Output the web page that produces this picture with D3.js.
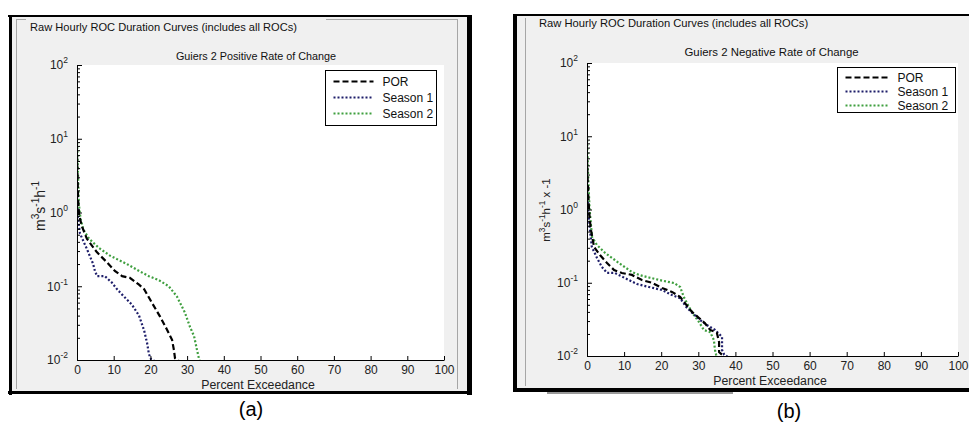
<!DOCTYPE html>
<html><head><meta charset="utf-8">
<script src="https://cdn.jsdelivr.net/npm/d3@7"></script>
<style>
body{margin:0;background:#fff}
svg{display:block}
text{font-family:"Liberation Sans",Arial,sans-serif}
</style>
</head><body>
<svg id="c" width="969" height="424"></svg>
<script>
// ---------- DATA ----------
const boxTitle = "Raw Hourly ROC Duration Curves (includes all ROCs)";
const panelTitles = ["Guiers 2 Positive Rate of Change", "Guiers 2 Negative Rate of Change"];
const panelTags = ["(a)", "(b)"];
const xLabel = "Percent Exceedance";
const seriesNames = ["POR", "Season 1", "Season 2"];
const xTicks = [0, 10, 20, 30, 40, 50, 60, 70, 80, 90, 100];
const yTicks = [0.01, 0.1, 1, 10, 100];
const yTickExp = ["-2", "-1", "0", "1", "2"];
const yMinorTicks = [0.02,0.03,0.04,0.05,0.06,0.07,0.08,0.09,0.2,0.3,0.4,0.5,0.6,0.7,0.8,0.9,2,3,4,5,6,7,8,9,20,30,40,50,60,70,80,90];

// Panel (a) – positive rate of change
const aPorX = [0, 0.3, 0.6, 1.4, 2.7, 5.4, 8.2, 10.4, 12.3, 14.4, 16.9, 18.3, 20.4, 22.6, 24.5, 25.9, 26.4, 26.7, 27.5, 28];
const aPorY = [6, 1.5, 0.9, 0.64, 0.44, 0.29, 0.21, 0.16, 0.137, 0.13, 0.105, 0.091, 0.06, 0.039, 0.026, 0.0188, 0.0137, 0.0106, 0.0099, 0.0095];
const aS1X = [0, 0.2, 0.8, 2.7, 4.4, 4.9, 5.5, 7.6, 9.5, 11, 12.3, 15, 16.9, 18.3, 19.1, 19.6, 20.2, 21.5];
const aS1Y = [1.9, 0.9, 0.52, 0.32, 0.2, 0.16, 0.137, 0.137, 0.112, 0.09, 0.077, 0.056, 0.04, 0.025, 0.017, 0.012, 0.0102, 0.0095];
const aS2X = [0, 0.3, 0.5, 1.0, 1.6, 1.9, 3.3, 6, 9, 13.6, 17, 19.6, 22.3, 25, 27.2, 29.4, 30.8, 31.9, 32.7, 33.2, 33.5];
const aS2Y = [10, 3, 1.3, 0.8, 0.62, 0.57, 0.44, 0.33, 0.26, 0.2, 0.16, 0.137, 0.121, 0.1, 0.073, 0.044, 0.028, 0.021, 0.0137, 0.0106, 0.0095];

// Panel (b) – negative rate of change
const bPorX = [0, 0.3, 0.6, 1.0, 1.9, 3.5, 5.4, 7.3, 9.4, 12.1, 14.8, 17.5, 20.2, 22.9, 25.1, 26.4, 28.3, 30.2, 31.8, 33.2, 35, 35.6, 35.6, 36.4, 37.2];
const bPorY = [5, 1.7, 0.9, 0.55, 0.308, 0.239, 0.186, 0.149, 0.136, 0.128, 0.109, 0.1, 0.085, 0.075, 0.064, 0.0528, 0.04, 0.033, 0.028, 0.0227, 0.0208, 0.0155, 0.0113, 0.0104, 0.0095];
const bS1X = [0, 0.3, 0.8, 1.3, 2.7, 4, 5.4, 7.5, 10.2, 13.5, 16.7, 20.2, 22.9, 25.1, 26.7, 28.3, 30.5, 32.3, 34.5, 36.4, 36.4, 37, 38.3];
const bS1Y = [2.4, 1.0, 0.52, 0.308, 0.218, 0.164, 0.136, 0.136, 0.116, 0.096, 0.0875, 0.0796, 0.068, 0.0616, 0.047, 0.039, 0.031, 0.0265, 0.0227, 0.0182, 0.0121, 0.0104, 0.0095];
const bS2X = [0, 0.3, 0.7, 1.35, 2.7, 4.9, 8.6, 12.1, 14, 16.7, 20.2, 23.5, 25.1, 26.1, 27.5, 28.8, 30.2, 31.5, 33.2, 34.2, 34.5, 34.8, 35];
const bS2Y = [10, 3, 1.0, 0.42, 0.327, 0.255, 0.186, 0.14, 0.128, 0.118, 0.107, 0.099, 0.0875, 0.0638, 0.0467, 0.0363, 0.0291, 0.0226, 0.0212, 0.0165, 0.0121, 0.0104, 0.0095];

// ---------- STYLE ----------
const seriesStyle = [
  {color: "#000000", dash: "6,3", width: 2.2},
  {color: "#1e1e6a", dash: "2,2", width: 2.2},
  {color: "#3f9f3f", dash: "2,2", width: 2.2}
];

const svg = d3.select("#c");
const zip = (xs, ys) => xs.map((v, i) => [v, ys[i]]);

function supText(sel, parts, baseSize, supSize) {
  let prevSup = false;
  parts.forEach(([s, sup]) => {
    const t = sel.append("tspan").text(s);
    if (sup) t.attr("font-size", supSize);
    if (sup && !prevSup) t.attr("dy", -baseSize * 0.4);
    else if (!sup && prevSup) t.attr("dy", baseSize * 0.4);
    prevSup = sup;
  });
}

function drawPanel(p, idx) {
  const g = svg.append("g");
  g.append("rect").attr("x", p.bg[0]).attr("y", p.bg[1]).attr("width", p.bg[2]).attr("height", p.bg[3]).attr("fill", "#f0f0f0");
  p.frame.forEach(f => g.append("rect").attr("x", f[0]).attr("y", f[1]).attr("width", f[2]).attr("height", f[3]).attr("fill", f[4] || "#000"));
  p.group.forEach(l => g.append("line").attr("x1", l[0]).attr("y1", l[1]).attr("x2", l[2]).attr("y2", l[3]).attr("stroke", "#a6a6a6").attr("stroke-width", 1));

  g.append("text").attr("x", p.titleX).attr("y", p.titleY).attr("font-size", p.titleFs).attr("fill", "#111").text(boxTitle);

  const x = d3.scaleLinear().domain([0, 100]).range([p.l, p.r]);
  const y = d3.scaleLog().domain([0.01, 100]).range([p.b, p.t]);

  g.append("rect").attr("x", p.l).attr("y", p.t).attr("width", p.r - p.l).attr("height", p.b - p.t).attr("fill", "#fff");

  g.append("text").attr("x", p.subX).attr("y", p.subY).attr("text-anchor", "middle")
    .attr("font-size", p.subFs).attr("fill", "#111").text(panelTitles[idx]);

  const cid = "clip" + idx;
  svg.append("clipPath").attr("id", cid).append("rect")
    .attr("x", p.l).attr("y", p.t - 1).attr("width", p.r - p.l).attr("height", p.b - p.t + 1);

  const line = d3.line().x(d => x(d[0])).y(d => y(Math.max(d[1], 0.0095)));
  const lg = g.append("g").attr("clip-path", `url(#${cid})`);
  for (let i = p.series.length - 1; i >= 0; i--) {
    const s = p.series[i];
    lg.append("path").datum(zip(s[0], s[1])).attr("d", line)
      .attr("fill", "none").attr("stroke", seriesStyle[i].color)
      .attr("stroke-width", seriesStyle[i].width).attr("stroke-dasharray", seriesStyle[i].dash);
  }

  const xa = g.append("g").attr("transform", `translate(0,${p.b})`)
    .call(d3.axisBottom(x).tickValues(xTicks).tickSizeInner(-4).tickSizeOuter(0).tickPadding(5));
  xa.selectAll("text").attr("font-size", 12).attr("fill", "#222").attr("font-family", "Liberation Sans, Arial, sans-serif");
  xa.select(".domain").attr("stroke", "#000");

  const ym = g.append("g").attr("transform", `translate(${p.l},0)`)
    .call(d3.axisLeft(y).tickValues(yMinorTicks).tickSizeInner(-3).tickSizeOuter(0).tickFormat(() => ""));
  ym.select(".domain").remove();
  const ya = g.append("g").attr("transform", `translate(${p.l},0)`)
    .call(d3.axisLeft(y).tickValues(yTicks).tickSizeInner(-5).tickSizeOuter(0).tickPadding(9).tickFormat(() => ""));
  ya.select(".domain").attr("stroke", "#000");
  ya.selectAll(".tick text").each(function(d) {
    const t = d3.select(this).attr("font-size", 12).attr("fill", "#222").attr("font-family", "Liberation Sans, Arial, sans-serif");
    t.text(null);
    t.append("tspan").text("10");
    t.append("tspan").attr("dy", -6).attr("font-size", 8.5).text(yTickExp[yTicks.indexOf(d)]);
  });

  g.append("text").attr("x", p.xLabX).attr("y", p.xLabY).attr("text-anchor", "middle")
    .attr("font-size", 12.3).attr("fill", "#222").text(xLabel);
  const yl = g.append("text").attr("transform", `translate(${p.yLabX},${p.yLabY}) rotate(-90)`)
    .attr("text-anchor", "middle").attr("font-size", p.yLabFs).attr("fill", "#222");
  supText(yl, p.yLabParts, p.yLabFs, p.yLabFs * 0.72);

  const L = p.legend;
  g.append("rect").attr("x", L.x).attr("y", L.y).attr("width", L.w).attr("height", L.h)
    .attr("fill", "#fff").attr("stroke", "#000").attr("stroke-width", 1);
  seriesNames.forEach((nm, i) => {
    const yy = L.y + L.row0 + i * L.dy;
    g.append("line").attr("x1", L.x + 8).attr("x2", L.x + 8 + L.sw).attr("y1", yy).attr("y2", yy)
      .attr("stroke", seriesStyle[i].color).attr("stroke-width", seriesStyle[i].width)
      .attr("stroke-dasharray", seriesStyle[i].dash);
    g.append("text").attr("x", L.x + L.tx).attr("y", yy + 4.5).attr("font-size", 12).attr("fill", "#111").text(nm);
  });

  svg.append("text").attr("x", p.tagX).attr("y", p.tagY).attr("text-anchor", "middle")
    .attr("font-size", 20).attr("fill", "#000").text(panelTags[idx]);
}

const panels = [
  {
    bg: [10, 17, 458, 375],
    frame: [[8, 15, 464, 2], [9, 15, 3, 380], [467, 15, 5, 380], [8, 391, 464, 3]],
    group: [[16.5, 19, 16.5, 389], [16.5, 19.5, 26, 19.5], [326, 19.5, 457.5, 19.5], [457.5, 19, 457.5, 389]],
    titleX: 30, titleY: 31, titleFs: 11.1,
    l: 77, t: 65, r: 444, b: 360, subX: 256, subY: 60, subFs: 10.8,
    xLabX: 258, xLabY: 389, yLabX: 45, yLabY: 206, yLabFs: 14,
    yLabParts: [["m", false], ["3", true], ["s", false], ["-1", true], ["h", false], ["-1", true]],
    series: [[aPorX, aPorY], [aS1X, aS1Y], [aS2X, aS2Y]],
    legend: {x: 325.5, y: 70.5, w: 111, h: 55, row0: 11, dy: 16, sw: 40, tx: 57},
    tagX: 251, tagY: 416
  },
  {
    bg: [517, 16, 452, 372],
    frame: [[513, 14, 456, 2], [513, 14, 4, 378], [513, 388, 456, 4], [547, 392, 186, 2, "#999"]],
    group: [[525.5, 18, 525.5, 386]],
    titleX: 539, titleY: 27, titleFs: 11.2,
    l: 587, t: 63, r: 958, b: 356, subX: 771.5, subY: 56, subFs: 11.4,
    xLabX: 770, xLabY: 385, yLabX: 550, yLabY: 210, yLabFs: 11.5,
    yLabParts: [["m", false], ["3", true], ["s", false], ["-1", true], ["h", false], ["-1", true], [" x -1", false]],
    series: [[bPorX, bPorY], [bS1X, bS1Y], [bS2X, bS2Y]],
    legend: {x: 837.5, y: 67.5, w: 118, h: 45, row0: 10, dy: 14, sw: 42, tx: 60},
    tagX: 789, tagY: 418
  }
];
panels.forEach(drawPanel);
</script>
</body></html>
